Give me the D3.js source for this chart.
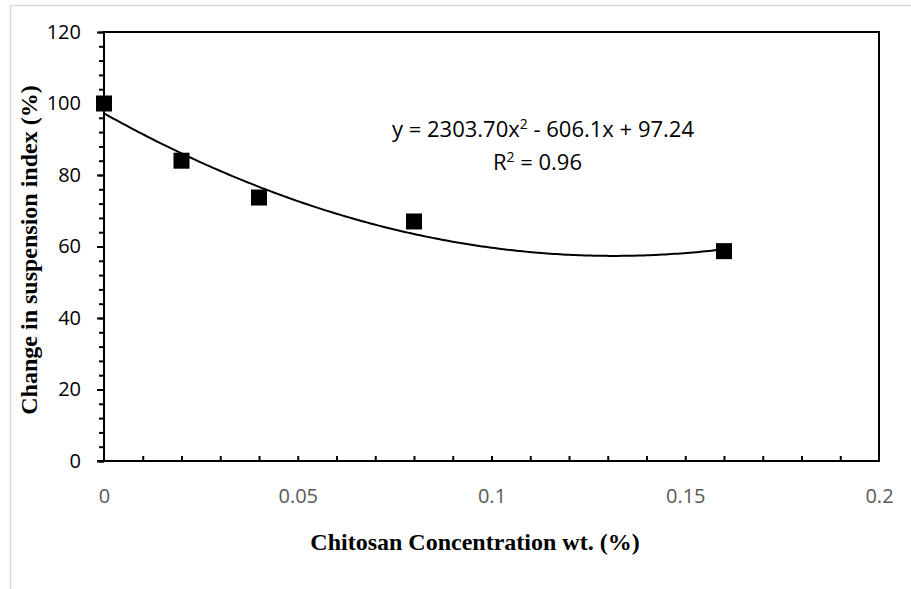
<!DOCTYPE html>
<html>
<head>
<meta charset="utf-8">
<script src="https://cdn.jsdelivr.net/npm/d3@7"></script>
<style>
  html, body { margin: 0; padding: 0; background: #fff; }
  svg { display: block; }
</style>
</head>
<body>
<svg id="chart" width="911" height="589"></svg>
<script>
// ---- data ----
const concentrations = [0, 0.02, 0.04, 0.08, 0.16];
const suspensionChange = [100, 84.0, 73.7, 67.0, 58.7];
const trendCoefficients = [97.24, -606.1, 2303.70]; // c0 + c1*x + c2*x^2
const xTickLabels = [0, 0.05, 0.1, 0.15, 0.2];
const yTickLabels = [0, 20, 40, 60, 80, 100, 120];
const equationText = ["y = 2303.70x", "2", " - 606.1x + 97.24"];
const r2Text = ["R", "2", " = 0.96"];
const xTitle = "Chitosan Concentration wt. (%)";
const yTitle = "Change in suspension index (%)";

// ---- layout ----
const svg = d3.select("#chart");
const plot = { left: 104, right: 879, top: 32, bottom: 461 };
const x = d3.scaleLinear().domain([0, 0.2]).range([plot.left, plot.right]);
const y = d3.scaleLinear().domain([0, 120]).range([plot.bottom, plot.top]);
const sansFont = "'Open Sans', 'DejaVu Sans', sans-serif";
const serifFont = "'Liberation Serif', 'Times New Roman', serif";

// outer chart border (light gray)
svg.append("rect")
  .attr("x", 10.5).attr("y", 5.5)
  .attr("width", 1000).attr("height", 1000)
  .attr("fill", "none").attr("stroke", "#d9d9d9").attr("stroke-width", 1.5);

// frame: top and right lines
svg.append("line")
  .attr("x1", plot.left).attr("x2", plot.right)
  .attr("y1", plot.top).attr("y2", plot.top)
  .attr("stroke", "#000").attr("stroke-width", 2);
svg.append("line")
  .attr("x1", plot.right).attr("x2", plot.right)
  .attr("y1", plot.top - 1).attr("y2", plot.bottom)
  .attr("stroke", "#000").attr("stroke-width", 2);

// y axis: minor ticks
const yMinor = d3.axisLeft(y).tickValues(d3.range(0, 121, 4)).tickSize(5).tickFormat("");
const gyMinor = svg.append("g").attr("transform", `translate(${plot.left},0)`).call(yMinor);
gyMinor.select(".domain").remove();
gyMinor.selectAll(".tick line").attr("stroke", "#000").attr("stroke-width", 2);

// y axis: major
const yAxis = d3.axisLeft(y).tickValues(yTickLabels).tickSize(7).tickPadding(16).tickFormat(d3.format("d"));
const gy = svg.append("g").attr("transform", `translate(${plot.left},0)`).call(yAxis);
gy.select(".domain").attr("stroke", "#000").attr("stroke-width", 2)
  .attr("d", `M0,${plot.bottom + 1}V${plot.top - 1}`);
gy.selectAll(".tick line").attr("stroke", "#000").attr("stroke-width", 2);
gy.selectAll(".tick text")
  .attr("fill", "#000").style("font-family", sansFont).style("font-size", "20px");

// x axis: minor ticks pointing up (inside)
const xMinor = d3.axisTop(x).tickValues(d3.range(1, 20).map(i => i / 100)).tickSize(5).tickFormat("");
const gxMinor = svg.append("g").attr("transform", `translate(0,${plot.bottom})`).call(xMinor);
gxMinor.select(".domain").remove();
gxMinor.selectAll(".tick line").attr("stroke", "#000").attr("stroke-width", 2);

// x axis: main line + labels
const xAxis = d3.axisBottom(x).tickValues(xTickLabels).tickSize(0).tickPadding(28).tickFormat(d => String(d));
const gx = svg.append("g").attr("transform", `translate(0,${plot.bottom})`).call(xAxis);
gx.select(".domain").attr("stroke", "#000").attr("stroke-width", 2)
  .attr("d", `M${plot.left - 7},0H${plot.right + 1}`);
gx.selectAll(".tick text")
  .attr("fill", "#595959").style("font-family", sansFont).style("font-size", "20px");

// trendline
const trend = x0 => trendCoefficients[0] + trendCoefficients[1] * x0 + trendCoefficients[2] * x0 * x0;
const xMin = d3.min(concentrations), xMax = d3.max(concentrations);
const trendPts = d3.range(0, 201).map(i => xMin + (xMax - xMin) * i / 200);
svg.append("path")
  .datum(trendPts)
  .attr("fill", "none").attr("stroke", "#000").attr("stroke-width", 2)
  .attr("d", d3.line().x(d => x(d)).y(d => y(trend(d))).curve(d3.curveLinear));

// markers
const ms = 16;
svg.append("g").selectAll("rect")
  .data(concentrations.map((c, i) => [c, suspensionChange[i]]))
  .join("rect")
  .attr("x", d => x(d[0]) - ms / 2).attr("y", d => y(d[1]) - ms / 2)
  .attr("width", ms).attr("height", ms).attr("fill", "#000");

// equation
function supText(parts, xEnd, yBase) {
  const t = svg.append("text")
    .attr("x", xEnd).attr("y", yBase).attr("text-anchor", "end")
    .style("font-family", sansFont).style("font-size", "22px").attr("fill", "#000");
  t.append("tspan").text(parts[0]);
  t.append("tspan").attr("dy", -8).style("font-size", "14px").text(parts[1]);
  t.append("tspan").attr("dy", 8).text(parts[2]);
}
supText(equationText, 694, 137);
supText(r2Text, 582, 170);

// axis titles
svg.append("text")
  .attr("x", 475).attr("y", 550)
  .attr("text-anchor", "middle")
  .style("font-family", serifFont).style("font-size", "24px").style("font-weight", "bold")
  .text(xTitle);
svg.append("text")
  .attr("transform", `translate(37,250) rotate(-90)`)
  .attr("text-anchor", "middle")
  .style("font-family", serifFont).style("font-size", "24px").style("font-weight", "bold")
  .text(yTitle);
</script>
</body>
</html>
